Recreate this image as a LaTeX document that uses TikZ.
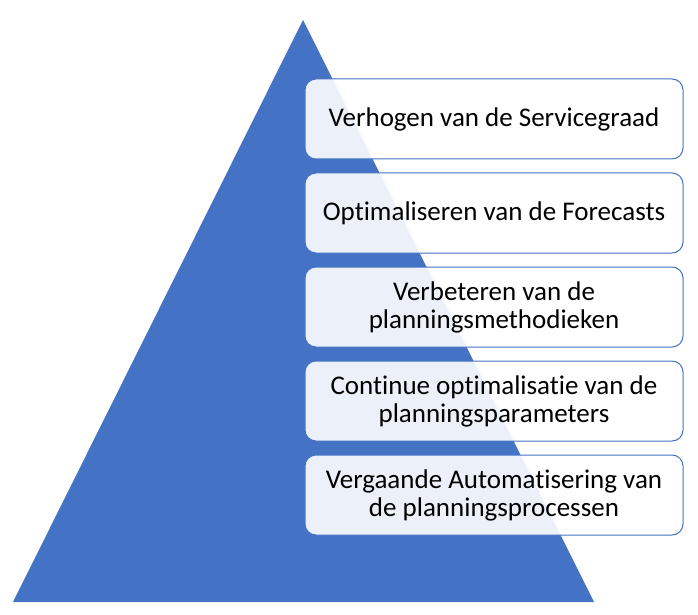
\documentclass[tikz,border=0pt]{standalone}
\usepackage{fontspec}
\setmainfont{Carlito}[Ligatures=NoCommon]
\usepackage{tikz}
\usetikzlibrary{positioning}
\definecolor{pyrblue}{HTML}{4472C4}

\begin{document}
\begin{tikzpicture}[x=1pt, y=1pt, node distance=13pt,
  level/.style={draw=pyrblue, line width=1pt, fill=white, fill opacity=0.9,
    text opacity=1, rounded corners=11pt, minimum width=378pt,
    minimum height=80pt, align=center,
    font=\fontsize{27}{28}\selectfont}]
    \useasboundingbox (0,0) rectangle (698,614);
    % pyramid
    \coordinate (top) at (303,594);
    \coordinate (baseL) at (13,12);
    \coordinate (baseR) at (594,12);
    \fill[pyrblue] (top) -- (baseR) -- (baseL) -- cycle;
    % levels
    \node (service) [level] at (494,495) {Verhogen van de Servicegraad};
    \node (forecast) [level, below=of service] {Optimaliseren van de Forecasts};
    \node (method) [level, below=of forecast] {Verbeteren van de\\planningsmethodieken};
    \node (param) [level, below=of method] {Continue optimalisatie van de\\planningsparameters};
    \node (auto) [level, below=of param] {Vergaande Automatisering van\\de planningsprocessen};
\end{tikzpicture}
\end{document}
